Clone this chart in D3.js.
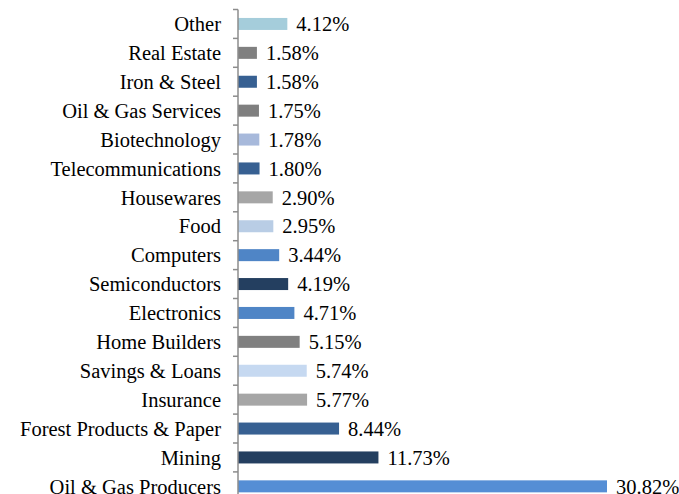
<!DOCTYPE html>
<html><head><meta charset="utf-8">
<script src="https://cdn.jsdelivr.net/npm/d3@7"></script>
<style>body{margin:0;background:#fff}svg{display:block}
text{font-family:"Liberation Serif","Times New Roman","DejaVu Serif",serif;}</style>
</head><body>
<script>
const categories = ["Other","Real Estate","Iron & Steel","Oil & Gas Services","Biotechnology","Telecommunications","Housewares","Food","Computers","Semiconductors","Electronics","Home Builders","Savings & Loans","Insurance","Forest Products & Paper","Mining","Oil & Gas Producers"];
const values = [4.12,1.58,1.58,1.75,1.78,1.80,2.90,2.95,3.44,4.19,4.71,5.15,5.74,5.77,8.44,11.73,30.82];
const colors = ["#a5cddb","#808080","#376092","#7f7f7f","#a7b9db","#376092","#a6a6a6","#b9cde5","#4f85c6","#243f60","#4f85c6","#808080","#c6d9f1","#a6a6a6","#376092","#243f60","#558ed5"];

const W = 679, H = 494;
const svg = d3.select("body").append("svg").attr("width", W).attr("height", H);
const x0 = 238;
const x = d3.scaleLinear().domain([0, 30.82]).range([x0, 607]);
const yb = d3.scaleBand().domain(categories).range([9.5, 9.5 + 28.9 * categories.length]);

svg.selectAll("rect.bar").data(categories).join("rect")
  .attr("class","bar")
  .attr("x", x0)
  .attr("y", (d) => yb(d) + yb.bandwidth()/2 - 6)
  .attr("width", (d,i) => x(values[i]) - x0)
  .attr("height", 12)
  .attr("fill", (d,i) => colors[i]);

const ax = svg.append("g");
ax.append("line").attr("x1", x0).attr("x2", x0).attr("y1", yb.range()[0]).attr("y2", H + 20)
  .attr("stroke", "#8c8c8c").attr("stroke-width", 1.5);
ax.selectAll("line.tick").data(d3.range(categories.length + 1)).join("line")
  .attr("class","tick")
  .attr("x1", x0 - 5).attr("x2", x0)
  .attr("y1", (i) => yb.range()[0] + i * yb.step())
  .attr("y2", (i) => yb.range()[0] + i * yb.step())
  .attr("stroke", "#8c8c8c").attr("stroke-width", 1.5);

svg.selectAll("text.cat").data(categories).join("text")
  .attr("class","cat")
  .attr("x", 221)
  .attr("y", (d) => yb(d) + yb.bandwidth()/2)
  .attr("dy", "0.35em")
  .attr("text-anchor", "end")
  .attr("font-size", 20.5)
  .attr("fill", "#000")
  .text((d) => d);

svg.selectAll("text.val").data(categories).join("text")
  .attr("class","val")
  .attr("x", (d,i) => x(values[i]) + 9)
  .attr("y", (d) => yb(d) + yb.bandwidth()/2)
  .attr("dy", "0.35em")
  .attr("font-size", 20.5)
  .attr("fill", "#000")
  .text((d,i) => values[i].toFixed(2) + "%");
</script>
</body></html>
